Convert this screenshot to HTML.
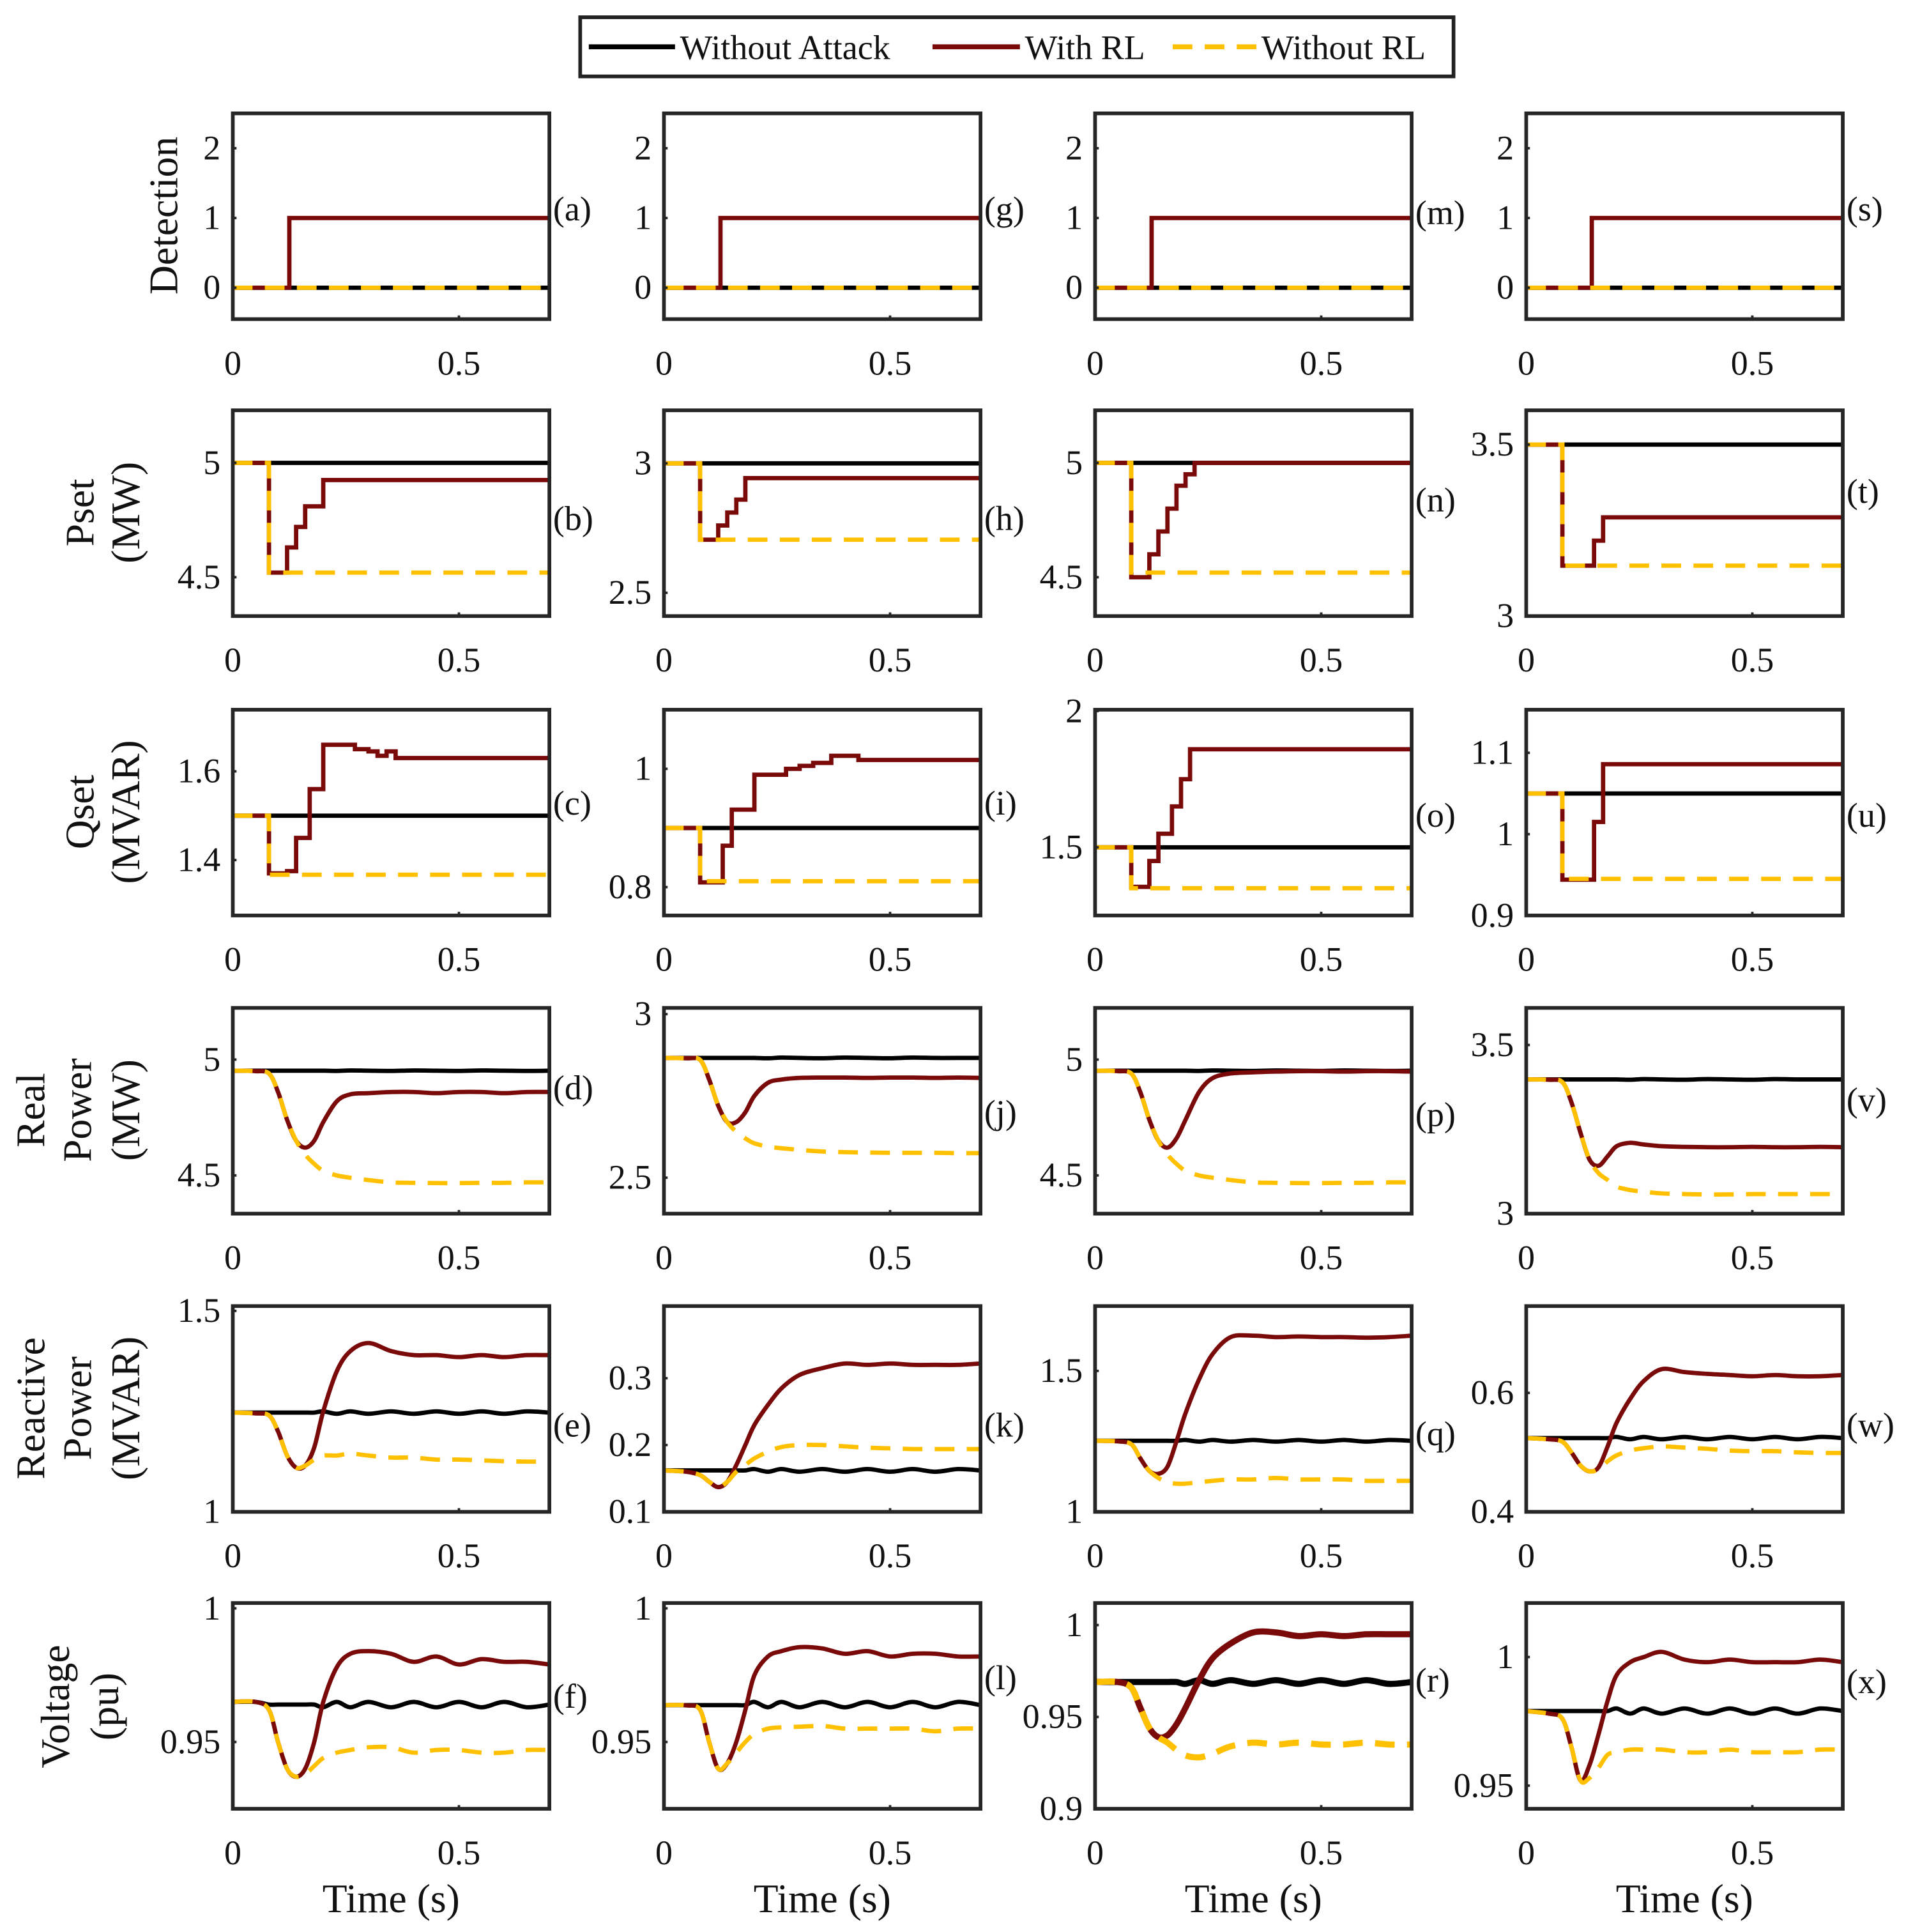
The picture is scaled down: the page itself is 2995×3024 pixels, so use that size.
<!DOCTYPE html>
<html><head><meta charset="utf-8"><style>
html,body{margin:0;padding:0;background:#fff;}
svg{display:block;}
text{font-family:"Liberation Serif",serif;fill:#111;}
</style></head><body>
<svg id="chart" xmlns="http://www.w3.org/2000/svg" width="2995" height="3024" viewBox="0 0 1553 1568" preserveAspectRatio="none">
<g>
<rect x="471" y="14" width="709" height="48" fill="#fff" stroke="#222" stroke-width="3"/>
<line x1="478" y1="38" x2="548" y2="38" stroke="#000" stroke-width="4"/>
<text x="552" y="48" font-size="28">Without Attack</text>
<line x1="757" y1="38" x2="828" y2="38" stroke="#7a0a0a" stroke-width="4"/>
<text x="832" y="48" font-size="28">With RL</text>
<line x1="952" y1="38" x2="1020" y2="38" stroke="#ffc000" stroke-width="4" stroke-dasharray="16 10"/>
<text x="1024" y="48" font-size="28">Without RL</text>
</g>
</svg>
<script>
// ---------- data ----------
const T = [0,0.05,0.08,0.1,0.12,0.14,0.16,0.18,0.2,0.23,0.26,0.3,0.35,0.4,0.45,0.5,0.55,0.6,0.65,0.7];
const detT = [0,0.125,0.7];
const detT4 = [0,0.145,0.7];
const detRed = [0,1,1];
const zeroT = [0,0.7];
const zeroV = [0,0];
// Pset
const bRedT=[0,0.08,0.12,0.14,0.16,0.2]; const bRedV=[5,4.52,4.63,4.72,4.81,4.925];
const hRedT=[0,0.08,0.12,0.14,0.16,0.18]; const hRedV=[3,2.705,2.76,2.81,2.86,2.943];
const nRedT=[0,0.08,0.12,0.14,0.16,0.18,0.2,0.22]; const nRedV=[5,4.5,4.6,4.7,4.8,4.9,4.95,5];
const tRedT=[0,0.08,0.15,0.17]; const tRedV=[3.5,3.147,3.22,3.288];
// Qset
const cRedT=[0,0.08,0.12,0.14,0.17,0.2,0.27,0.3,0.32,0.34,0.36]; const cRedV=[1.5,1.37,1.375,1.45,1.56,1.66,1.65,1.645,1.635,1.645,1.63];
const iRedT=[0,0.08,0.13,0.15,0.2,0.27,0.3,0.33,0.37,0.43]; const iRedV=[0.9,0.808,0.87,0.931,0.99,1.0,1.005,1.01,1.022,1.015];
const oRedT=[0,0.08,0.12,0.14,0.17,0.19,0.21]; const oRedV=[1.5,1.355,1.45,1.55,1.65,1.75,1.86];
const uRedT=[0,0.08,0.15,0.17]; const uRedV=[1.05,0.944,1.015,1.086];
// Real power
const dBlack=[4.952,4.952,4.952,4.952,4.952,4.952,4.952,4.952,4.952,4.951,4.953,4.952,4.951,4.953,4.952,4.951,4.953,4.952,4.951,4.952];
const dRed=[4.952,4.95,4.94,4.86,4.74,4.65,4.62,4.65,4.73,4.82,4.85,4.855,4.86,4.86,4.855,4.86,4.86,4.855,4.86,4.86];
const dYel=[4.952,4.95,4.94,4.86,4.74,4.65,4.59,4.55,4.52,4.5,4.49,4.48,4.47,4.468,4.467,4.467,4.468,4.468,4.47,4.47];
const jBlack=[2.866,2.866,2.866,2.866,2.866,2.866,2.866,2.866,2.866,2.865,2.867,2.866,2.865,2.867,2.866,2.865,2.867,2.866,2.866,2.866];
const jRed=[2.866,2.865,2.86,2.8,2.72,2.67,2.67,2.7,2.75,2.79,2.8,2.805,2.806,2.806,2.805,2.806,2.806,2.805,2.806,2.805];
const jYel=[2.866,2.865,2.86,2.8,2.72,2.67,2.64,2.62,2.605,2.595,2.59,2.585,2.58,2.578,2.577,2.576,2.576,2.576,2.575,2.575];
const pBlack=[4.952,4.952,4.952,4.952,4.952,4.952,4.952,4.952,4.952,4.951,4.953,4.952,4.951,4.953,4.952,4.951,4.953,4.952,4.951,4.952];
const pRed=[4.952,4.95,4.94,4.86,4.74,4.65,4.62,4.66,4.74,4.86,4.92,4.94,4.945,4.948,4.95,4.95,4.948,4.95,4.95,4.948];
const pYel=[4.952,4.95,4.94,4.86,4.74,4.65,4.59,4.55,4.52,4.5,4.49,4.48,4.47,4.468,4.467,4.467,4.468,4.468,4.47,4.47];
const vBlack=[3.398,3.398,3.398,3.398,3.398,3.398,3.398,3.398,3.398,3.397,3.399,3.398,3.397,3.399,3.398,3.397,3.399,3.398,3.398,3.398];
const vRed=[3.398,3.397,3.39,3.33,3.24,3.16,3.142,3.17,3.2,3.21,3.205,3.2,3.198,3.197,3.197,3.198,3.197,3.197,3.198,3.197];
const vYel=[3.398,3.397,3.39,3.33,3.24,3.16,3.12,3.1,3.08,3.07,3.065,3.06,3.058,3.057,3.057,3.058,3.058,3.058,3.058,3.058];
// Reactive power
const eBlack=[1.247,1.247,1.247,1.247,1.247,1.247,1.247,1.247,1.25,1.244,1.25,1.244,1.25,1.244,1.25,1.244,1.25,1.244,1.25,1.247];
const eRed=[1.247,1.245,1.24,1.2,1.14,1.11,1.115,1.16,1.25,1.35,1.4,1.42,1.4,1.39,1.39,1.385,1.39,1.385,1.39,1.39];
const eYel=[1.247,1.245,1.24,1.2,1.14,1.11,1.115,1.13,1.14,1.14,1.145,1.14,1.135,1.135,1.13,1.13,1.128,1.126,1.125,1.125];
const kBlack=[0.162,0.162,0.162,0.162,0.162,0.162,0.162,0.162,0.164,0.16,0.164,0.16,0.164,0.16,0.164,0.16,0.164,0.16,0.164,0.162];
const kRed=[0.162,0.16,0.155,0.145,0.137,0.145,0.17,0.2,0.23,0.26,0.285,0.305,0.315,0.322,0.32,0.322,0.32,0.32,0.32,0.322];
const kYel=[0.162,0.16,0.155,0.145,0.137,0.145,0.16,0.17,0.18,0.19,0.197,0.2,0.2,0.198,0.196,0.195,0.194,0.194,0.194,0.194];
const qBlack=[1.252,1.252,1.252,1.252,1.252,1.252,1.252,1.252,1.255,1.249,1.255,1.249,1.255,1.249,1.255,1.249,1.255,1.249,1.255,1.252];
const qRed=[1.252,1.25,1.24,1.19,1.145,1.135,1.16,1.25,1.35,1.47,1.56,1.62,1.625,1.62,1.622,1.62,1.62,1.618,1.62,1.625];
const qYel=[1.252,1.25,1.24,1.19,1.145,1.12,1.105,1.1,1.1,1.105,1.11,1.115,1.115,1.12,1.115,1.115,1.115,1.11,1.11,1.11];
const wBlack=[0.524,0.524,0.524,0.524,0.524,0.524,0.524,0.524,0.526,0.522,0.526,0.522,0.526,0.522,0.526,0.522,0.526,0.522,0.526,0.524];
const wRed=[0.524,0.522,0.518,0.5,0.478,0.468,0.475,0.51,0.55,0.59,0.62,0.64,0.635,0.632,0.63,0.628,0.63,0.628,0.628,0.63];
const wYel=[0.524,0.522,0.518,0.5,0.478,0.468,0.472,0.485,0.495,0.503,0.507,0.51,0.508,0.506,0.503,0.502,0.502,0.5,0.499,0.499];
// Voltage
const fBlack=[0.965,0.965,0.964,0.964,0.964,0.964,0.964,0.964,0.963,0.965,0.963,0.965,0.963,0.965,0.963,0.965,0.963,0.965,0.963,0.964];
const fRed=[0.965,0.965,0.962,0.95,0.94,0.937,0.94,0.95,0.965,0.978,0.983,0.984,0.983,0.98,0.982,0.979,0.981,0.98,0.98,0.979];
const fYel=[0.965,0.965,0.962,0.95,0.94,0.937,0.938,0.941,0.944,0.946,0.947,0.948,0.948,0.946,0.947,0.947,0.946,0.946,0.947,0.947];
const lBlack=[0.9638,0.9638,0.9638,0.9638,0.9638,0.9638,0.9638,0.9638,0.965,0.963,0.965,0.963,0.965,0.963,0.965,0.963,0.965,0.963,0.965,0.9638];
const lRed=[0.9638,0.9637,0.962,0.95,0.94,0.942,0.95,0.962,0.975,0.982,0.984,0.9855,0.985,0.983,0.984,0.982,0.983,0.983,0.982,0.982];
const lYel=[0.9638,0.9637,0.962,0.95,0.94,0.942,0.946,0.95,0.953,0.955,0.9555,0.9557,0.956,0.955,0.955,0.955,0.955,0.954,0.955,0.955];
const rBlack=[0.969,0.969,0.969,0.969,0.969,0.969,0.969,0.969,0.968,0.97,0.968,0.97,0.968,0.97,0.968,0.97,0.968,0.97,0.968,0.969];
const rRed=[0.969,0.969,0.966,0.955,0.944,0.939,0.94,0.946,0.955,0.97,0.982,0.99,0.996,0.996,0.994,0.995,0.994,0.995,0.995,0.995];
const rYel=[0.969,0.969,0.966,0.955,0.944,0.939,0.936,0.932,0.929,0.928,0.93,0.934,0.936,0.935,0.936,0.935,0.935,0.936,0.935,0.935];
const xBlack=[0.979,0.979,0.979,0.979,0.979,0.979,0.979,0.979,0.98,0.978,0.98,0.978,0.98,0.978,0.98,0.978,0.98,0.978,0.98,0.979];
const xRed=[0.979,0.978,0.976,0.965,0.952,0.958,0.97,0.983,0.993,0.998,1.0,1.002,0.999,0.998,0.999,0.998,0.998,0.998,0.999,0.998];
const xYel=[0.979,0.978,0.976,0.965,0.952,0.953,0.957,0.962,0.963,0.964,0.964,0.964,0.963,0.963,0.964,0.963,0.963,0.963,0.964,0.964];
const xTickVals=[0,0.5];
const xTickLabels=["0","0.5"];

// ---------- layout ----------
const NS="http://www.w3.org/2000/svg";
const svg=document.getElementById('chart');
const COLX=[189,539,889,1239], ROWY=[92,333,576,818,1060,1301], PW=257, PH=167, XMAX=0.7;
const RED="#7a0a0a", YEL="#ffc000";
function mk(tag,attrs,parent){const e=document.createElementNS(NS,tag);for(const k in attrs)e.setAttribute(k,attrs[k]);(parent||svg).appendChild(e);return e;}
function stepSeries(ts,vs){return {type:'step',t:ts,v:vs};}
function smooth(vs){return {type:'smooth',t:T,v:vs};}
function yConst(v){return {type:'step',t:zeroT,v:[v,v]};}
function yDrop(a,b){return {type:'step',t:[0,0.08],v:[a,b]};}

const panels=[
 {r:0,c:0,id:'a',ly:170,yr:[-0.45,2.5],ticks:[0,1,2],tl:["0","1","2"],k:yConst(0),red:stepSeries(detT,detRed),yel:yConst(0)},
 {r:0,c:1,id:'g',ly:170,yr:[-0.45,2.5],ticks:[0,1,2],tl:["0","1","2"],k:yConst(0),red:stepSeries(detT,detRed),yel:yConst(0)},
 {r:0,c:2,id:'m',ly:173,yr:[-0.45,2.5],ticks:[0,1,2],tl:["0","1","2"],k:yConst(0),red:stepSeries(detT,detRed),yel:yConst(0)},
 {r:0,c:3,id:'s',ly:170,yr:[-0.45,2.5],ticks:[0,1,2],tl:["0","1","2"],k:yConst(0),red:stepSeries(detT4,detRed),yel:yConst(0)},
 {r:1,c:0,id:'b',ly:421,yr:[4.33,5.23],ticks:[4.5,5],tl:["4.5","5"],k:yConst(5),red:stepSeries(bRedT,bRedV),yel:yDrop(5,4.52)},
 {r:1,c:1,id:'h',ly:421,yr:[2.41,3.205],ticks:[2.5,3],tl:["2.5","3"],k:yConst(3),red:stepSeries(hRedT,hRedV),yel:yDrop(3,2.705)},
 {r:1,c:2,id:'n',ly:406,yr:[4.33,5.23],ticks:[4.5,5],tl:["4.5","5"],k:yConst(5),red:stepSeries(nRedT,nRedV),yel:yDrop(5,4.52)},
 {r:1,c:3,id:'t',ly:399,yr:[3,3.6],ticks:[3,3.5],tl:["3","3.5"],k:yConst(3.5),red:stepSeries(tRedT,tRedV),yel:yDrop(3.5,3.147)},
 {r:2,c:0,id:'c',ly:652,yr:[1.275,1.739],ticks:[1.4,1.6],tl:["1.4","1.6"],k:yConst(1.5),red:stepSeries(cRedT,cRedV),yel:yDrop(1.5,1.367)},
 {r:2,c:1,id:'i',ly:652,yr:[0.752,1.1],ticks:[0.8,1],tl:["0.8","1"],k:yConst(0.9),red:stepSeries(iRedT,iRedV),yel:yDrop(0.9,0.81)},
 {r:2,c:2,id:'o',ly:662,yr:[1.25,2.005],ticks:[1.5,2],tl:["1.5","2"],k:yConst(1.5),red:stepSeries(oRedT,oRedV),yel:yDrop(1.5,1.35)},
 {r:2,c:3,id:'u',ly:662,yr:[0.9,1.153],ticks:[0.9,1,1.1],tl:["0.9","1","1.1"],k:yConst(1.05),red:stepSeries(uRedT,uRedV),yel:yDrop(1.05,0.945)},
 {r:3,c:0,id:'d',ly:883,yr:[4.335,5.223],ticks:[4.5,5],tl:["4.5","5"],k:smooth(dBlack),red:smooth(dRed),yel:smooth(dYel)},
 {r:3,c:1,id:'j',ly:903,yr:[2.39,3.019],ticks:[2.5,3],tl:["2.5","3"],k:smooth(jBlack),red:smooth(jRed),yel:smooth(jYel)},
 {r:3,c:2,id:'p',ly:905,yr:[4.335,5.223],ticks:[4.5,5],tl:["4.5","5"],k:smooth(pBlack),red:smooth(pRed),yel:smooth(pYel)},
 {r:3,c:3,id:'v',ly:893,yr:[3,3.61],ticks:[3,3.5],tl:["3","3.5"],k:smooth(vBlack),red:smooth(vRed),yel:smooth(vYel)},
 {r:4,c:0,id:'e',ly:1157,yr:[1,1.512],ticks:[1,1.5],tl:["1","1.5"],k:smooth(eBlack),red:smooth(eRed),yel:smooth(eYel)},
 {r:4,c:1,id:'k',ly:1157,yr:[0.1,0.408],ticks:[0.1,0.2,0.3],tl:["0.1","0.2","0.3"],k:smooth(kBlack),red:smooth(kRed),yel:smooth(kYel)},
 {r:4,c:2,id:'q',ly:1164,yr:[1,1.73],ticks:[1,1.5],tl:["1","1.5"],k:smooth(qBlack),red:smooth(qRed),yel:smooth(qYel)},
 {r:4,c:3,id:'w',ly:1157,yr:[0.4,0.746],ticks:[0.4,0.6],tl:["0.4","0.6"],k:smooth(wBlack),red:smooth(wRed),yel:smooth(wYel)},
 {r:5,c:0,id:'f',ly:1377,yr:[0.925,1.002],ticks:[0.95,1],tl:["0.95","1"],k:smooth(fBlack),red:smooth(fRed),yel:smooth(fYel)},
 {r:5,c:1,id:'l',ly:1362,yr:[0.925,1.002],ticks:[0.95,1],tl:["0.95","1"],k:smooth(lBlack),red:smooth(lRed),yel:smooth(lYel)},
 {r:5,c:2,id:'r',ly:1364,yr:[0.9,1.012],ticks:[0.9,0.95,1],tl:["0.9","0.95","1"],k:smooth(rBlack),red:smooth(rRed),yel:smooth(rYel),thick:true},
 {r:5,c:3,id:'x',ly:1365,yr:[0.941,1.021],ticks:[0.95,1],tl:["0.95","1"],k:smooth(xBlack),red:smooth(xRed),yel:smooth(xYel)}
];

function pathFor(s,X,Y){
  if(s.type==='step'){
    let d='M'+X(s.t[0])+' '+Y(s.v[0]);
    for(let i=1;i<s.t.length;i++){d+=' H'+X(s.t[i])+' V'+Y(s.v[i]);}
    d+=' H'+X(XMAX);
    return d;
  }
  const pts=s.t.map((t,i)=>[X(t),Y(s.v[i])]);
  let d='M'+pts[0][0]+' '+pts[0][1];
  for(let i=0;i<pts.length-1;i++){
    const p0=pts[Math.max(0,i-1)],p1=pts[i],p2=pts[i+1],p3=pts[Math.min(pts.length-1,i+2)];
    const c1=[p1[0]+(p2[0]-p0[0])/6,p1[1]+(p2[1]-p0[1])/6];
    const c2=[p2[0]-(p3[0]-p1[0])/6,p2[1]-(p3[1]-p1[1])/6];
    d+=' C'+c1[0]+' '+c1[1]+' '+c2[0]+' '+c2[1]+' '+p2[0]+' '+p2[1];
  }
  return d;
}

const defs=mk('defs',{});
panels.forEach(p=>{
  const x0=COLX[p.c], y0=ROWY[p.r];
  const X=t=>x0+t/XMAX*PW;
  const Y=v=>y0+PH-(v-p.yr[0])/(p.yr[1]-p.yr[0])*PH;
  const g=mk('g',{});
  
  
  const cp=mk('clipPath',{id:'clip-'+p.id},defs);
  mk('rect',{x:x0,y:y0,width:PW,height:PH},cp);
  const lg=mk('g',{'clip-path':'url(#clip-'+p.id+')'},g);
  const sw=p.thick?5:3.5;
  const kl=mk('path',{d:pathFor(p.k,X,Y),fill:'none',stroke:'#000','stroke-width':sw},lg);
  
  
  const rl=mk('path',{d:pathFor(p.red,X,Y),fill:'none',stroke:RED,'stroke-width':sw},lg);
  
  
  const yl=mk('path',{d:pathFor(p.yel,X,Y),fill:'none',stroke:YEL,'stroke-width':sw,'stroke-dasharray':'16 10'},lg);
  
  
  const fr=mk('rect',{x:x0,y:y0,width:PW,height:PH,fill:'none',stroke:'#262626','stroke-width':3},g);
  
  
  xTickVals.forEach((tv,i)=>{
    mk('line',{x1:X(tv),x2:X(tv),y1:y0+PH,y2:y0+PH-3,stroke:'#262626','stroke-width':2},g);
    const t=mk('text',{x:X(tv),y:y0+PH+45,'font-size':28,'text-anchor':'middle'},g);
    t.textContent=xTickLabels[i];
    
    
  });
  p.ticks.forEach((tv,i)=>{
    mk('line',{x1:x0,x2:x0+3,y1:Y(tv),y2:Y(tv),stroke:'#262626','stroke-width':2},g);
    const t=mk('text',{x:x0-10,y:Y(tv)+9,'font-size':28,'text-anchor':'end'},g);
    t.textContent=p.tl[i];
    
    
  });
  const lab=mk('text',{x:x0+PW+3,y:p.ly+9,'font-size':28},g);
  lab.textContent='('+p.id+')';
  
  
});

const rowTitles=[
 {lines:["Detection"],xs:[133],cy:175},
 {lines:["Pset","(MW)"],xs:[65,102],cy:416},
 {lines:["Qset","(MVAR)"],xs:[65,102],cy:659},
 {lines:["Real","Power","(MW)"],xs:[25,63,102],cy:901},
 {lines:["Reactive","Power","(MVAR)"],xs:[25,63,102],cy:1143},
 {lines:["Voltage","(pu)"],xs:[45,85],cy:1385}
];
rowTitles.forEach(rt=>{
  rt.lines.forEach((ln,i)=>{
    const t=mk('text',{x:rt.xs[i]+11,y:rt.cy,'font-size':33,'text-anchor':'middle',transform:'rotate(-90 '+(rt.xs[i]+11)+' '+rt.cy+')'});
    t.textContent=ln;
    
    
  });
});
COLX.forEach(x=>{
  const t=mk('text',{x:x+PW/2,y:1552,'font-size':33,'text-anchor':'middle'});
  t.textContent='Time (s)';
  
  
});
</script>
</body></html>
